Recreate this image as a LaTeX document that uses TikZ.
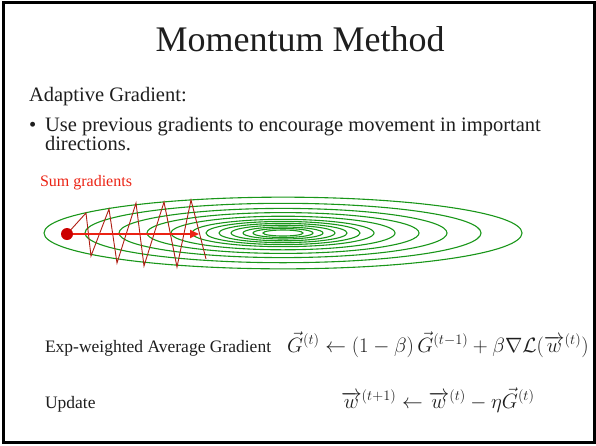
\documentclass[tikz,border=0pt]{standalone}
\usepackage{amsmath}
\usepackage{fontspec}
\setmainfont{Liberation Serif}
\usepackage{tikz}
\usepackage{xcolor}
\usetikzlibrary{arrows.meta, positioning}

\definecolor{contourgreen}{RGB}{25,150,25}
\definecolor{zigred}{RGB}{175,30,20}
\definecolor{sumred}{RGB}{235,35,20}
\definecolor{slidetext}{RGB}{30,30,30}

\begin{document}
\begin{tikzpicture}[x=1pt, y=-1pt, every node/.style={inner sep=0pt, outer sep=0pt, text=slidetext},
    contour/.style={contourgreen, line width=1.1pt},
    bodytext/.style={anchor=base west, font=\fontsize{20.5}{24}\selectfont},
    eqtext/.style={anchor=base west, font=\fontsize{17.5}{21}\selectfont},
    eqmath/.style={anchor=base west, font=\fontsize{20}{24}\selectfont}]
    \useasboundingbox (0,0) rectangle (596,445);
    \draw[line width=3pt, black] (3,2.5) rectangle (594,442.5);

    \node[anchor=base, font=\fontsize{36}{42}\selectfont] (title) at (300,51) {Momentum Method};
    \node[bodytext] (adagrad) at (29,101) {Adaptive Gradient:};
    \node[bodytext] (bullet) at (29,131) {\textbullet};
    \node[bodytext] (use) at (45,131) {Use previous gradients to encourage movement in important};
    \node[bodytext] (dirs) at (45,150) {directions.};

    % level sets of the loss
    \foreach \a in {20,30,40,52,64,77,91,112,136,164,198,239}
        \draw[contour] (283,233) ellipse [x radius=\a, y radius=0.15*\a];

    \node[anchor=base west, font=\fontsize{16}{19}\selectfont, text=sumred] (sumlbl) at (40,186) {Sum gradients};

    % oscillating plain gradient steps
    \draw[zigred, line width=0.9pt, line join=miter]
        (67,234) -- (86,213) -- (91,256) -- (109,209) -- (117,263) -- (136,203)
        -- (144,266) -- (164,202) -- (177,267) -- (191,200) -- (206,259);

    \node[circle, fill=red!80!black, minimum size=12pt] (start) at (67,234) {};
    \coordinate (sumtip) at (199,234);
    \draw[sumred, line width=1.8pt, -{Triangle[length=9pt, width=8pt]}] (start) -- (sumtip);

    \node[eqtext] (expname) at (45,352) {Exp-weighted Average Gradient};
    \node[eqmath] (expeq) at (287,352)
        {$\vec{G}^{(t)} \leftarrow (1-\beta)\,\vec{G}^{(t-1)} + \beta\nabla\mathcal{L}(\overrightarrow{w}^{(t)})$};
    \node[eqtext] (updname) at (45,408) {Update};
    \node[eqmath] (updeq) at (341,408)
        {$\overrightarrow{w}^{(t+1)} \leftarrow \overrightarrow{w}^{(t)} - \eta\vec{G}^{(t)}$};
\end{tikzpicture}
\end{document}
